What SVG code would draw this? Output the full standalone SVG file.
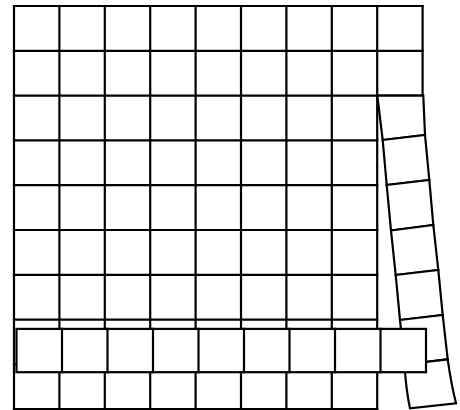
<svg xmlns="http://www.w3.org/2000/svg" width="460" height="410" viewBox="0 0 460 410">
  <style>
    .ln { stroke: #000; stroke-width: 2.2; fill: none; stroke-linecap: square; }
    .cell { stroke: #000; stroke-width: 2.2; fill: #fff; stroke-linejoin: miter; }
  </style>
  <rect width="460" height="410" fill="#fff"/>
  <g id="grid">
    <path class="ln" d="M14 6V409.2 M59.4 6V409.2 M104.8 6V409.2 M150.2 6V409.2 M195.6 6V409.2 M241 6V409.2 M286.4 6V409.2 M331.8 6V409.2 M377.2 6V409.2 M422.6 6V95.6"/>
    <path class="ln" d="M14 6H422.6 M14 50.8H422.6 M14 95.6H422.6 M14 140.4H377.2 M14 185.2H377.2 M14 230H377.2 M14 274.8H377.2 M14 319.6H377.2 M14 364.4H377.2 M14 409.2H377.2"/>
  </g>
  <g id="fallen-column">
    <path class="cell" d="M377.3 95.6 L423.3 95.6 L425 135 L382.7 140 Z"/>
    <path class="cell" d="M382.7 140 L425 135 L429.3 180 L386.7 185 Z"/>
    <path class="cell" d="M386.7 185 L429.3 180 L433.3 225 L391 230.5 Z"/>
    <path class="cell" d="M391 230.5 L433.3 225 L438.3 270 L395.7 275 Z"/>
    <path class="cell" d="M395.7 275 L438.3 270 L442.7 315 L400 320 Z"/>
    <path class="cell" d="M400 320 L442.7 315 L447.7 359.3 L404.5 364.5 Z"/>
    <path class="cell" d="M404.5 364.5 L447.7 359.3 Q451 383 456 403.3 L410 408.3 Q406 390 404.5 364.5 Z"/>
  </g>
  <g id="pulled-row">
    <rect class="cell" x="16.5" y="328.9" width="409.5" height="43.3"/>
    <path class="ln" d="M62 328.9V372.2 M107.5 328.9V372.2 M153 328.9V372.2 M198.5 328.9V372.2 M244 328.9V372.2 M289.5 328.9V372.2 M335 328.9V372.2 M380.5 328.9V372.2"/>
  </g>
</svg>
